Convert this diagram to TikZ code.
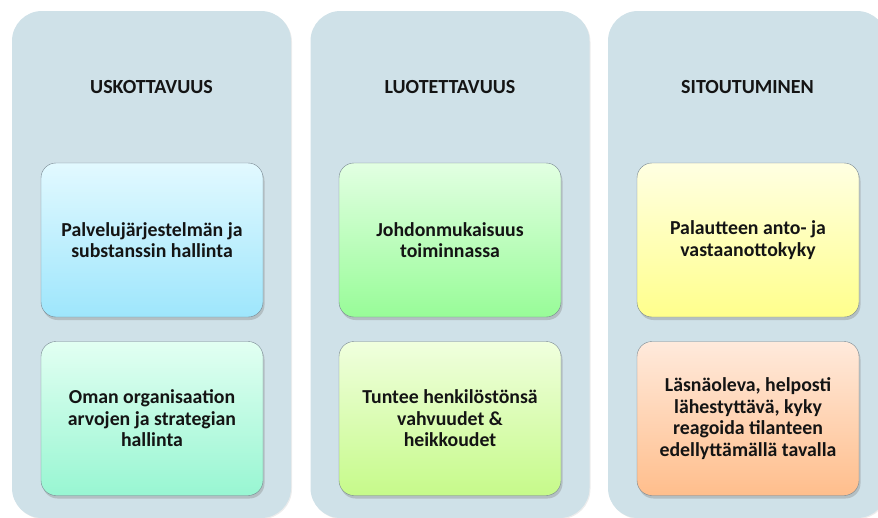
\documentclass[tikz,border=0pt]{standalone}
\usepackage{fontspec}
\setmainfont{Carlito}
\usepackage{xcolor}
\usepackage{tikz}
\usetikzlibrary{shadows,positioning}
\definecolor{colfill}{RGB}{207,225,232}
\definecolor{cardline}{RGB}{120,135,145}
\definecolor{blueTop}{RGB}{226,249,255}
\definecolor{blueBot}{RGB}{158,230,252}
\definecolor{mintTop}{RGB}{226,255,242}
\definecolor{mintBot}{RGB}{152,246,210}
\definecolor{greenTop}{RGB}{226,255,226}
\definecolor{greenBot}{RGB}{152,252,152}
\definecolor{limeTop}{RGB}{240,255,222}
\definecolor{limeBot}{RGB}{198,250,138}
\definecolor{yellowTop}{RGB}{255,255,226}
\definecolor{yellowBot}{RGB}{255,255,140}
\definecolor{peachTop}{RGB}{255,234,220}
\definecolor{peachBot}{RGB}{255,190,140}

\begin{document}
\begin{tikzpicture}[x=1pt,y=-1pt,
    column/.style={fill=colfill, rounded corners=30pt, minimum width=279pt,
        minimum height=507pt, inner sep=0pt,
        drop shadow={shadow xshift=1pt, shadow yshift=-1pt, opacity=0.15}},
    heading/.style={font=\bfseries\fontsize{20}{21.5}\selectfont, text=black!92},
    card/.style={draw=cardline, rounded corners=15pt, minimum width=222pt,
        minimum height=154pt, align=center, text=black!92,
        font=\bfseries\fontsize{19.8}{21.5}\selectfont,
        drop shadow={shadow xshift=1.5pt, shadow yshift=-3pt, opacity=0.35}}]
    \path[use as bounding box, clip] (0,0) rectangle (878,517);

    % background columns
    \node[column] (uskCol) at (151.5,264.5) {};
    \node[column] (luoCol) at (450,264.5) {};
    \node[column] (sitCol) at (747.5,264.5) {};

    % headings
    \node[heading] (uskHead) at (151.5,87) {USKOTTAVUUS};
    \node[heading] (luoHead) at (450,87) {LUOTETTAVUUS};
    \node[heading] (sitHead) at (747.5,87) {SITOUTUMINEN};

    % first row
    \node[card, top color=blueTop, bottom color=blueBot] (palvelu) at (152,240)
        {Palvelujärjestelmän ja\\substanssin hallinta};
    \node[card, top color=greenTop, bottom color=greenBot] (johdon) at (450,240)
        {Johdonmukaisuus\\toiminnassa};
    \node[card, top color=yellowTop, bottom color=yellowBot] (palaute) at (748,240)
        {Palautteen anto- ja\\vastaanottokyky};

    % second row
    \node[card, top color=mintTop, bottom color=mintBot] (oman) at (152,418.5)
        {Oman organisaation\\arvojen ja strategian\\hallinta};
    \node[card, top color=limeTop, bottom color=limeBot] (tuntee) at (450,418.5)
        {Tuntee henkilöstönsä\\vahvuudet \&\\heikkoudet};
    \node[card, top color=peachTop, bottom color=peachBot] (lasna) at (748,418.5)
        {Läsnäoleva, helposti\\lähestyttävä, kyky\\reagoida tilanteen\\edellyttämällä tavalla};
\end{tikzpicture}
\end{document}
